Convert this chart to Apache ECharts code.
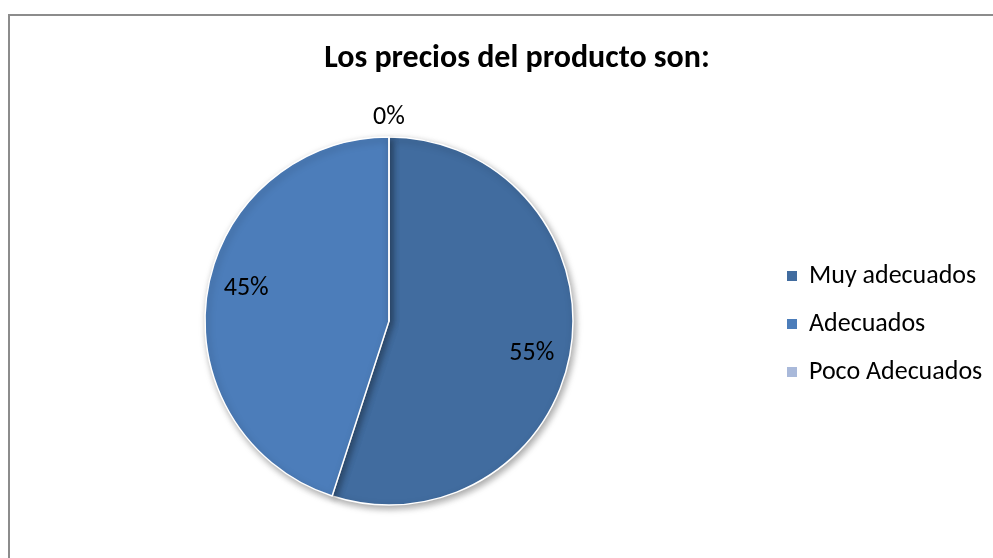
<!DOCTYPE html>
<html>
<head>
<meta charset="utf-8">
<script src="https://cdn.jsdelivr.net/npm/echarts@6/dist/echarts.min.js"></script>
<style>
  html, body { margin: 0; padding: 0; background: #ffffff; }
  #chart { width: 993px; height: 558px; }
</style>
</head>
<body>
<div id="chart"></div>
<script>
// Survey answers and their shares (%)
const categories = ['Muy adecuados', 'Adecuados', 'Poco Adecuados'];
const values = [55, 45, 0];
const colors = ['#416C9F', '#4C7DBA', '#A9B9DA'];

const FONT = 'Carlito, Lato, "Liberation Sans", sans-serif';
const CX = 389, CY = 321, R = 184;

const chart = echarts.init(document.getElementById('chart'));

const pieData = categories.map((name, i) => ({
  name: name,
  value: values[i],
  itemStyle: { color: colors[i] }
}));

const clear = { color: 'rgba(0,0,0,0)', borderWidth: 0, shadowBlur: 0 };

// Inside labels for the non-empty slices, placed on a transparent ring
const innerLabelData = categories.map((name, i) => ({
  name: name,
  value: values[i],
  itemStyle: clear,
  label: { show: values[i] !== 0 }
}));

// The empty slice gets its label just above the pie rim
const rimLabelData = categories.map((name, i) => ({
  name: name,
  value: values[i],
  itemStyle: clear,
  label: { show: values[i] === 0 }
}));

const labelStyle = {
  position: 'inside',
  formatter: '{c}%',
  fontFamily: FONT,
  fontSize: 26,
  color: '#000'
};

chart.setOption({
  animation: false,
  graphic: [{
    type: 'rect',
    shape: { x: 9, y: 15, width: 1100, height: 700 },
    style: { fill: 'none', stroke: '#8c8c8c', lineWidth: 2 },
    silent: true
  }],
  title: {
    text: 'Los precios del producto son:',
    left: 512,
    top: 38,
    textAlign: 'center',
    textStyle: { fontFamily: FONT, fontWeight: 'bold', fontSize: 32, color: '#000' }
  },
  legend: {
    orient: 'vertical',
    left: 785,
    top: 263,
    padding: 0,
    itemWidth: 12,
    itemHeight: 12,
    itemGap: 22,
    icon: 'rect',
    selectedMode: false,
    textStyle: {
      fontFamily: FONT, fontSize: 26, lineHeight: 26, color: '#000',
      padding: [0, 0, 0, 6]
    },
    data: categories
  },
  series: [
    {
      type: 'pie',
      center: [CX, CY],
      radius: [0, R],
      startAngle: 90,
      clockwise: true,
      avoidLabelOverlap: false,
      silent: true,
      itemStyle: {
        borderColor: '#ffffff',
        borderWidth: 1.5,
        shadowBlur: 7,
        shadowOffsetX: 2,
        shadowOffsetY: 3,
        shadowColor: 'rgba(0,0,0,0.35)'
      },
      label: { show: false },
      labelLine: { show: false },
      data: pieData
    },
    {
      type: 'pie',
      center: [CX, CY],
      radius: [R * 0.56, R],
      startAngle: 86,
      clockwise: true,
      avoidLabelOverlap: false,
      silent: true,
      legendHoverLink: false,
      label: labelStyle,
      labelLine: { show: false },
      data: innerLabelData
    },
    {
      type: 'pie',
      center: [CX, CY],
      radius: [R + 5, R + 29],
      startAngle: 90,
      clockwise: true,
      avoidLabelOverlap: false,
      silent: true,
      legendHoverLink: false,
      label: labelStyle,
      labelLine: { show: false },
      data: rimLabelData
    }
  ]
});
</script>
</body>
</html>
